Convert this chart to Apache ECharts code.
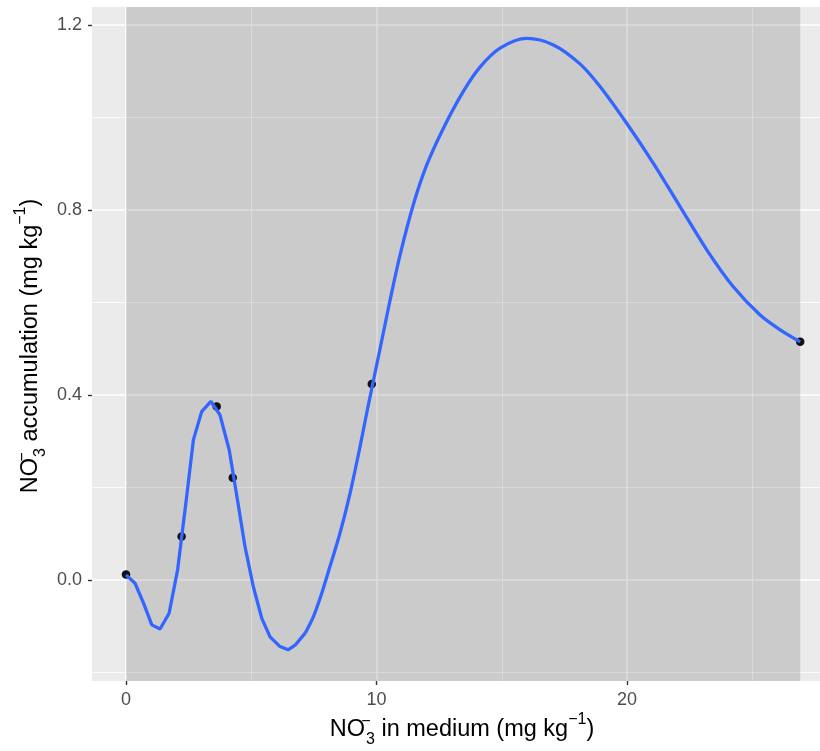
<!DOCTYPE html>
<html>
<head>
<meta charset="utf-8">
<script src="https://cdn.jsdelivr.net/npm/echarts@6/dist/echarts.min.js"></script>
<style>
html,body{margin:0;padding:0;background:#fff;}
#chart{width:820px;height:751px;}
</style>
</head>
<body>
<div id="chart"></div>
<script>
// ---- data ----
const xTicks = [0, 10, 20];
const xMinorLines = [5, 15, 25];
const yTicks = [0.0, 0.4, 0.8, 1.2];
const yMinorLines = [-0.2, 0.2, 0.6, 1.0];

const pointX = [0, 2.22, 3.62, 4.26, 9.81, 26.91];
const pointY = [0.012, 0.094, 0.375, 0.221, 0.424, 0.515];

const fitX = [0, 0.36, 0.70, 1.03, 1.36, 1.72, 2.06, 2.38, 2.69, 3.02, 3.39, 3.75, 4.12, 4.45, 4.75, 5.08, 5.42, 5.75, 6.15, 6.47, 6.75, 7.15,
  7.48, 7.81, 8.14, 8.54, 8.94, 9.34, 9.63, 10.14, 10.54, 10.94, 11.47, 12.0, 12.67, 13.47, 14.13, 14.93, 16.0, 17.06, 18.12, 18.92, 19.99, 21.05, 22.12, 23.18, 24.24, 25.31, 26.11, 26.91];
const fitY = [0.011, -0.007, -0.05, -0.097, -0.106, -0.072, 0.022, 0.162, 0.303, 0.364, 0.386, 0.357, 0.281, 0.173, 0.072, -0.014, -0.083, -0.123, -0.144, -0.151, -0.141, -0.115,
  -0.079, -0.029, 0.029, 0.101, 0.187, 0.288, 0.367, 0.500, 0.605, 0.703, 0.812, 0.897, 0.977, 1.057, 1.109, 1.150, 1.171, 1.157, 1.116, 1.067, 0.987, 0.901, 0.807, 0.714, 0.634, 0.573, 0.541, 0.515];

const shadeRange = [0, 26.91];
const xRange = [-1.357, 27.70];
const yRange = [-0.2184, 1.239];

// ---- build ----
const splitX = 7.15;
const fitPairs = fitX.map((x, i) => [x, fitY[i]]);
const fitLeft = fitPairs.filter(p => p[0] <= splitX);
const fitRight = fitPairs.filter(p => p[0] >= splitX);
const points = pointX.map((x, i) => [x, pointY[i]]);

const FONT = '"Liberation Sans", Arial, Helvetica, sans-serif';
const chart = echarts.init(document.getElementById('chart'), null, {renderer: 'canvas'});

const minorStyle = {color: '#FFFFFF', width: 0.8, type: 'solid'};
const majorStyle = {color: '#FFFFFF', width: 1.6, type: 'solid'};
const gridLines = []
  .concat(xMinorLines.map(v => ({xAxis: v, lineStyle: minorStyle})))
  .concat(yMinorLines.map(v => ({yAxis: v, lineStyle: minorStyle})))
  .concat(xTicks.map(v => ({xAxis: v, lineStyle: majorStyle})))
  .concat(yTicks.map(v => ({yAxis: v, lineStyle: majorStyle})));

const titleRich = {
  b: {fontSize: 23.5, fontFamily: FONT, color: '#000', lineHeight: 36},
  sup0: {fontSize: 16, fontFamily: FONT, color: '#000', lineHeight: 16, verticalAlign: 'top', width: 0, padding: [2, 0, 0, 1]},
  sub: {fontSize: 16, fontFamily: FONT, color: '#000', lineHeight: 16, verticalAlign: 'bottom'},
  sup: {fontSize: 16, fontFamily: FONT, color: '#000', lineHeight: 16, verticalAlign: 'top'}
};

const option = {
  animation: false,
  backgroundColor: '#FFFFFF',
  grid: {left: 92, right: 0, top: 7, bottom: 70, show: true, backgroundColor: '#EBEBEB', borderWidth: 0},
  xAxis: {
    type: 'value', min: xRange[0], max: xRange[1],
    axisLine: {show: false, onZero: false},
    axisTick: {show: true, customValues: xTicks, length: 4, lineStyle: {color: '#333333', width: 1.4}},
    axisLabel: {customValues: xTicks, margin: 10, color: '#4D4D4D', fontSize: 18, fontFamily: FONT, formatter: v => String(v)},
    splitLine: {show: false}
  },
  yAxis: {
    type: 'value', min: yRange[0], max: yRange[1],
    axisLine: {show: false, onZero: false},
    axisTick: {show: true, customValues: yTicks, length: 4, lineStyle: {color: '#333333', width: 1.4}},
    axisLabel: {customValues: yTicks, margin: 10, color: '#4D4D4D', fontSize: 18, fontFamily: FONT, formatter: v => v.toFixed(1)},
    splitLine: {show: false}
  },
  series: [
    {
      name: 'grid', type: 'line', data: [], z: 1, silent: true,
      markLine: {z: 1, silent: true, symbol: ['none', 'none'], label: {show: false}, emphasis: {disabled: true}, data: gridLines, animation: false}
    },
    {
      name: 'shade', type: 'line', data: [], z: 2, silent: true,
      markArea: {z: 2, silent: true, itemStyle: {color: 'rgba(0,0,0,0.135)'}, label: {show: false}, emphasis: {disabled: true},
        data: [[{xAxis: shadeRange[0]}, {xAxis: shadeRange[1]}]]}
    },
    {
      name: 'points', type: 'scatter', data: points, z: 3, symbol: 'circle', symbolSize: 8.5,
      itemStyle: {color: '#111111', opacity: 1}, silent: true
    },
    {
      name: 'fitLeft', type: 'line', data: fitLeft, z: 4, showSymbol: false, smooth: false,
      lineStyle: {color: '#3366FF', width: 3.3}, silent: true
    },
    {
      name: 'fitRight', type: 'line', data: fitRight, z: 4, showSymbol: false, smooth: 0.3,
      lineStyle: {color: '#3366FF', width: 3.3}, silent: true
    }
  ],
  graphic: [
    {
      type: 'text', x: 462, y: 730, z: 10, silent: true,
      style: {text: '{b|NO}{sup0|−}{sub|3}{b| in medium (mg kg}{sup|−1}{b|)}', rich: titleRich, align: 'center', verticalAlign: 'middle'}
    },
    {
      type: 'text', x: 31, y: 346, rotation: Math.PI / 2, z: 10, silent: true,
      style: {text: '{b|NO}{sup0|−}{sub|3}{b| accumulation (mg kg}{sup|−1}{b|)}', rich: titleRich, align: 'center', verticalAlign: 'middle'}
    }
  ]
};
chart.setOption(option);
</script>
</body>
</html>
